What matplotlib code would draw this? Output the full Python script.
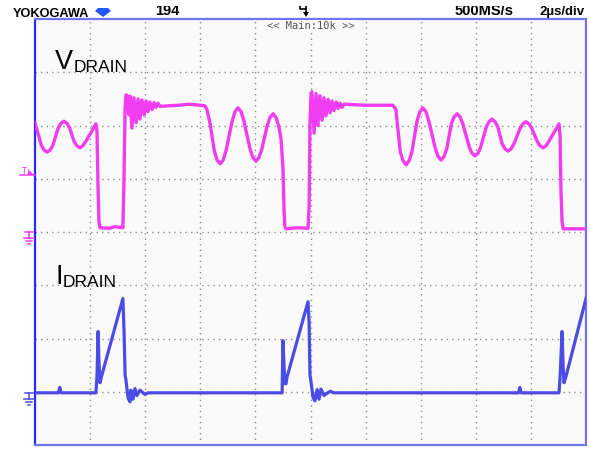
import matplotlib
matplotlib.use("Agg")
import matplotlib.pyplot as plt
from matplotlib.patches import Polygon, Rectangle
from matplotlib.lines import Line2D

# ---------------- data (time in µs, amplitude in divisions) ----------------
t_v = [0.00, 0.23, 0.33, 0.44, 0.55, 0.65, 0.84, 0.94, 1.05, 1.16, 1.26,
       1.42, 1.52, 1.63, 1.74, 1.84, 2.05, 2.21, 2.25, 2.29, 2.32, 2.36,
       2.70, 2.90, 3.19, 3.23, 3.27, 3.30, 3.34, 3.41, 3.45, 3.52, 3.59, 3.67,
       3.74, 3.81, 3.88, 3.96, 4.03, 4.10, 4.17, 4.25, 4.32, 4.39, 4.46, 4.54,
       5.20, 5.60, 6.17, 6.24, 6.35, 6.51, 6.61, 6.72, 6.83, 6.93,
       7.16, 7.26, 7.37, 7.48, 7.58, 7.81, 7.91, 8.02, 8.13, 8.23,
       8.43, 8.53, 8.64, 8.75, 8.85, 8.93, 9.00, 9.04, 9.07, 9.11, 9.50, 9.91,
       9.95, 9.98, 10.02, 10.05, 10.13, 10.20, 10.27, 10.34, 10.42, 10.49,
       10.56, 10.64, 10.71, 10.78, 10.85, 10.93, 11.00, 11.07, 11.14, 11.22,
       12.00, 12.99, 13.10, 13.26, 13.36, 13.47, 13.58, 13.68,
       13.87, 13.97, 14.08, 14.19, 14.29, 14.53, 14.63, 14.74, 14.85, 14.95,
       15.11, 15.21, 15.32, 15.43, 15.53, 15.76, 15.86, 15.97, 16.08, 16.18,
       16.38, 16.48, 16.59, 16.70, 16.80, 16.96, 17.06, 17.17, 17.28, 17.38,
       17.61, 17.71, 17.82, 17.93, 18.03, 18.23, 18.33, 18.44, 18.55, 18.65,
       18.85, 19.02, 19.06, 19.09, 19.13, 19.17, 20.00]
v_drain = [2.05, 1.63, 1.54, 1.50, 1.54, 1.63, 1.95, 2.04, 2.08, 2.04, 1.95,
           1.70, 1.62, 1.58, 1.62, 1.70, 1.88, 2.03, 1.90, 0.80, 0.20, 0.08,
           0.07, 0.10, 0.08, 1.00, 2.30, 2.57, 2.57, 2.20, 2.55, 1.95, 2.52, 2.05,
           2.50, 2.12, 2.48, 2.20, 2.46, 2.26, 2.44, 2.30, 2.43, 2.34, 2.42, 2.36,
           2.38, 2.40, 2.37, 2.30, 2.05, 1.52, 1.35, 1.28, 1.35, 1.52,
           2.09, 2.26, 2.33, 2.26, 2.09, 1.55, 1.40, 1.33, 1.40, 1.55,
           2.00, 2.15, 2.22, 2.15, 1.98, 1.75, 1.20, 0.40, 0.10, 0.06, 0.08, 0.07,
           0.50, 2.00, 2.61, 2.63, 1.86, 2.60, 2.00, 2.56, 2.10, 2.52,
           2.18, 2.49, 2.24, 2.46, 2.28, 2.44, 2.32, 2.42, 2.34, 2.40,
           2.38, 2.38, 2.30, 1.50, 1.34, 1.26, 1.34, 1.50,
           2.09, 2.26, 2.33, 2.26, 2.09, 1.57, 1.42, 1.35, 1.42, 1.57,
           2.03, 2.16, 2.22, 2.16, 2.03, 1.60, 1.48, 1.43, 1.48, 1.60,
           1.97, 2.07, 2.12, 2.07, 1.97, 1.65, 1.56, 1.52, 1.56, 1.65,
           1.95, 2.03, 2.07, 2.03, 1.95, 1.70, 1.62, 1.58, 1.62, 1.70,
           1.88, 2.03, 1.80, 0.80, 0.20, 0.06, 0.06]

t_i = [0.00, 0.85, 0.90, 0.95, 2.21, 2.25, 2.29, 2.32, 2.36, 2.40, 3.19, 3.23,
       3.27, 3.30, 3.38, 3.45, 3.48, 3.56, 3.63, 3.70, 3.81, 3.99, 4.10, 8.97,
       9.00, 9.04, 9.07, 9.11, 9.15, 9.91, 9.95, 9.98, 10.02, 10.09, 10.16,
       10.24, 10.31, 10.38, 10.49, 10.71, 10.85, 17.55, 17.60, 17.65, 19.02,
       19.06, 19.13, 19.17, 19.20, 19.27, 20.00]
i_drain = [0.00, 0.00, 0.10, 0.00, 0.00, 0.30, 1.15, 0.60, 0.19, 0.28, 1.77, 1.20,
           0.34, 0.24, -0.10, -0.17, 0.05, -0.12, 0.08, -0.05, 0.05, -0.03, 0.00, 0.00,
           0.98, 0.50, 0.17, 0.17, 0.30, 1.71, 1.30, 0.34, 0.20, -0.08, -0.15,
           0.06, -0.12, 0.07, -0.05, 0.03, 0.00, 0.00, 0.10, 0.00, 0.00,
           0.30, 1.15, 0.50, 0.19, 0.30, 1.77]

trace_labels = ["V", "DRAIN", "I", "DRAIN"]
header_texts = ["YOKOGAWA", "194", "500MS/s", "2µs/div", "<< Main:10k >>"]

# ---------------- figure ----------------
W, H = 590, 449
fig = plt.figure(figsize=(W / 100, H / 100), dpi=100)
fig.patch.set_facecolor("white")

def fx(px):
    return px / W

def fy(py):
    return 1 - py / H

ax = fig.add_axes([fx(35), 1 - 445 / H, 551 / W, 426 / H])
ax.set_facecolor("#FAFAFA")
ax.set_xlim(0, 20)
ax.set_ylim(-4, 4)
ax.set_xticks([])
ax.set_yticks([])
for s in ["top", "right", "bottom"]:
    ax.spines[s].set_color("#7373F2")
    ax.spines[s].set_linewidth(1.6)
ax.spines["left"].set_color("#2A2AFF")
ax.spines["left"].set_linewidth(1.6)

grid_kw = dict(color="#8C8C8C", lw=1.0, ls=(0, (1, 3)), zorder=1)
for gx in range(2, 20, 2):
    ax.axvline(gx, **grid_kw)
for gy in range(-3, 4):
    ax.axhline(gy, **grid_kw)

V_OFF = 0.0
I_OFF = -3.02
ax.plot(t_v, [v + V_OFF for v in v_drain], color="#F23CF2", lw=2.4, zorder=3,
        solid_joinstyle="round")
ax.plot(t_i, [i + I_OFF for i in i_drain], color="#4B4BE6", lw=2.3, zorder=3,
        solid_joinstyle="round")

ax.text(0.5, 1 - 7 / 426, header_texts[4], transform=ax.transAxes, ha="center",
        va="center", family="DejaVu Sans Mono", fontsize=7.5, color="#555555",
        bbox=dict(facecolor="#FAFAFA", edgecolor="none", pad=1), zorder=5)

# ---------------- trace labels ----------------
lab_font = "Liberation Sans"
fig.text(fx(55), fy(69), trace_labels[0], family=lab_font, fontsize=19.5,
         color="black", va="baseline", ha="left")
fig.text(fx(74), fy(72), trace_labels[1], family=lab_font, fontsize=12.5,
         color="black", va="baseline", ha="left")
fig.text(fx(55), fy(284), trace_labels[2], family=lab_font, fontsize=19.5,
         color="black", va="baseline", ha="left")
fig.text(fx(63), fy(287), trace_labels[3], family=lab_font, fontsize=12.5,
         color="black", va="baseline", ha="left")

# ---------------- header ----------------
fig.text(fx(13), fy(17), header_texts[0], family=lab_font, fontweight="bold",
         fontsize=9.2, color="black", va="baseline", ha="left")
gem = Polygon([(fx(98), fy(8)), (fx(108), fy(8)), (fx(111), fy(11)),
               (fx(103), fy(17)), (fx(95), fy(11))], closed=True,
              transform=fig.transFigure, facecolor="#1E5AFF", edgecolor="none")
fig.patches.append(gem)
fig.text(fx(155), fy(15), header_texts[1], family=lab_font, fontweight="bold",
         fontsize=10.5, color="black", va="baseline", ha="left")
fig.text(fx(455), fy(15), header_texts[2], family=lab_font, fontweight="bold",
         fontsize=10.5, color="black", va="baseline", ha="left")
fig.text(fx(539), fy(15), header_texts[3], family=lab_font, fontweight="bold",
         fontsize=9.5, color="black", va="baseline", ha="left")
# the instrument cuts the top rows of the header values
fig.patches.append(Rectangle((fx(140), fy(6)), fx(450), 6 / H,
                             transform=fig.transFigure, facecolor="white",
                             edgecolor="none", zorder=10))
# trigger position marker
fig.lines.append(Line2D([fx(300), fx(300), fx(306), fx(306)],
                        [fy(3), fy(9), fy(9), fy(3)], transform=fig.transFigure,
                        color="black", lw=1.2))
fig.lines.append(Line2D([fx(306), fx(306)], [fy(9), fy(13)],
                        transform=fig.transFigure, color="black", lw=1.2))
fig.patches.append(Polygon([(fx(303), fy(12)), (fx(309), fy(12)), (fx(306), fy(17))],
                           closed=True, transform=fig.transFigure,
                           facecolor="black", edgecolor="none"))

# ---------------- channel markers ----------------
def ground(py, color):
    segs = [([25, 33], [py, py]), ([29, 29], [py, py + 6]),
            ([24, 34], [py + 6, py + 6]), ([26, 32], [py + 9, py + 9]),
            ([28, 30], [py + 12, py + 12])]
    for xs, ys in segs:
        fig.lines.append(Line2D([fx(x) for x in xs], [fy(y) for y in ys],
                                transform=fig.transFigure, color=color, lw=1.1))

ground(232, "#F23CF2")
ground(393, "#4B4BE6")

mag = "#F23CF2"
fig.text(fx(21), fy(174), "T", family="DejaVu Sans", fontsize=6, color=mag,
         va="baseline", ha="left")
fig.lines.append(Line2D([fx(20), fx(35)], [fy(175), fy(175)],
                        transform=fig.transFigure, color=mag, lw=1.1))
fig.patches.append(Polygon([(fx(28), fy(169)), (fx(28), fy(175)), (fx(34), fy(175))],
                           closed=True, transform=fig.transFigure,
                           facecolor=mag, edgecolor="none"))

fig.savefig("out.png", dpi=100)
